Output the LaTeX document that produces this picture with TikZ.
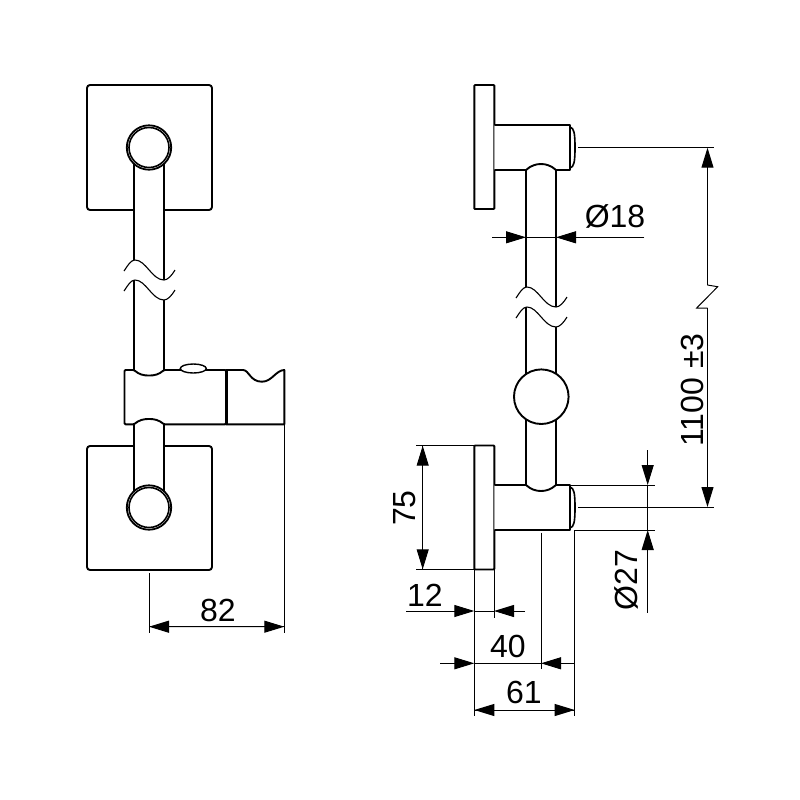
\documentclass[tikz,border=0pt]{standalone}
\usepackage{fontspec}
\setmainfont{Liberation Sans}
\usetikzlibrary{arrows.meta, calc, shapes.geometric}
\tikzstyle{outline} = [draw, line width=0.95pt, line join=round]
\tikzstyle{plate} = [rectangle, draw, line width=0.95pt, rounded corners=1.5pt, fill=white, inner sep=0pt]
\tikzstyle{flange} = [rectangle, draw, line width=0.95pt, rounded corners=0.4pt, fill=white, inner sep=0pt]
\tikzstyle{thinline} = [draw, line width=0.55pt]
\tikzstyle{dim} = [draw, line width=0.5pt]
\tikzstyle{dimtip} = [draw, line width=0.5pt, -{Triangle[length=10pt, width=6pt]}]
\tikzstyle{label} = [font=\fontsize{16}{18}\selectfont, inner sep=0pt]
\tikzset{tubebreak/.pic={
    \draw[thinline] (-10,11) .. controls (-6,5) and (-3,0) .. (1,0) .. controls (12,0) and (18,20) .. (30,20) .. controls (34,20) and (38,15) .. (41,10);
}}

\begin{document}
\begin{tikzpicture}[x=0.5pt, y=-0.5pt]
    \useasboundingbox (0,0) rectangle (800,800);
    % Front view
    \node [plate, minimum width=62.5pt, minimum height=62.5pt] (topplate) at (149.5,147.5) {};
    \node [plate, minimum width=62.5pt, minimum height=62pt] (lowplate) at (149.5,508) {};
    \fill[white] (134,147) rectangle (164,260);
    \fill[white] (134,424) rectangle (164,507);
    \draw[outline] (134,147) -- (134,260);
    \draw[outline] (164,147) -- (164,280);
    \draw[outline] (134,280) -- (134,370);
    \draw[outline] (164,300) -- (164,370);
    \draw[outline] (134,424) -- (134,507);
    \draw[outline] (164,424) -- (164,507);
    \foreach \ypos in {260,280}
        \pic at (134,\ypos) {tubebreak};
    \foreach \name/\ypos in {topcap/147.5, lowcap/507.5} {
        \node [circle, draw, line width=0.9pt, fill=white, minimum size=22.2pt, inner sep=0pt] (\name) at (149,\ypos) {};
        \node [circle, draw, line width=0.8pt, minimum size=20pt, inner sep=0pt] (\name in) at (149,\ypos) {};
    }
    % Slider and holder
    \path[outline, fill=white, rounded corners=0.5pt] (134,370) .. controls (139,374.5) and (144,375.5) .. (149,375.5) .. controls (154,375.5) and (159,374.5) .. (164,370) -- (226,370) -- (226,424.3) -- (164,424.3) .. controls (159,420) and (154,419) .. (149,419) .. controls (144,419) and (139,420) .. (134,424.3) -- (124.5,424.3) -- (124.5,370) -- cycle;
    \path[outline, fill=white] (226,370) -- (243,370) .. controls (249,370) and (250,381.7) .. (262,381.7) .. controls (272,381.7) and (276,370) .. (284.3,370) -- (284.3,424.3) -- (226,424.3) -- cycle;
    \draw[line width=1.5pt] (226,370) -- (226,424.3);
    \node [ellipse, draw, line width=0.7pt, fill=white, minimum width=13pt, minimum height=4.5pt, inner sep=0pt] (knob) at (193.3,368.5) {};
    % Side view
    \node [flange, minimum width=10pt, minimum height=62pt] (topflange) at (484.3,147) {};
    \node [flange, minimum width=10pt, minimum height=62pt] (lowflange) at (484.3,507.5) {};
    \draw[outline] (526,170) -- (526,287);
    \draw[outline] (556,170) -- (556,307);
    \draw[outline] (526,307) -- (526,485);
    \draw[outline] (556,327) -- (556,485);
    \foreach \ypos in {287,307}
        \pic at (526,\ypos) {tubebreak};
    \node [circle, draw, line width=0.95pt, fill=white, minimum size=27.3pt, inner sep=0pt] (ball) at (541.3,396.7) {};
    % Arms
    \path[outline, fill=white] (494.3,125) -- (570,125) -- (570,170) -- (556,170) .. controls (551,165.5) and (546,164) .. (541,164) .. controls (536,164) and (531,165.5) .. (526,170) -- (494.3,170);
    \path[outline, fill=white] (494.3,485) -- (526,485) .. controls (531,489.5) and (536,491) .. (541,491) .. controls (546,491) and (551,489.5) .. (556,485) -- (570,485) -- (570,530) -- (494.3,530);
    \draw[line width=0.8pt] (570,127) .. controls (574,128) and (575,133) .. (575,147.5) .. controls (575,162) and (574,167) .. (570,168);
    \draw[line width=0.8pt] (570,487) .. controls (574,488) and (575,493) .. (575,507.5) .. controls (575,522) and (574,527) .. (570,528);
    % Dimension points
    \coordinate (a82) at (149,626.7);
    \coordinate (b82) at (284.3,626.7);
    \coordinate (a18) at (526,237.3);
    \coordinate (b18) at (556,237.3);
    \coordinate (a1100) at (707.5,147.7);
    \coordinate (b1100) at (707.5,507);
    \coordinate (a75) at (422.7,445.7);
    \coordinate (b75) at (422.7,569.3);
    \coordinate (a27) at (647.7,485);
    \coordinate (b27) at (647.7,530);
    \coordinate (a12) at (474.3,611);
    \coordinate (b12) at (494,611);
    \coordinate (a40) at (474.3,663.3);
    \coordinate (b40) at (541,663.3);
    \coordinate (a61) at (474.3,710);
    \coordinate (b61) at (574.7,710);
    % Extension lines
    \path[dim] (149,573) -- (149,633);
    \path[dim] (284.3,424) -- (284.3,633);
    \path[dim] (578,147.7) -- (714,147.7);
    \path[dim] (578,507) -- (714,507);
    \path[dim] (416,445.7) -- (474,445.7);
    \path[dim] (416,569.3) -- (474,569.3);
    \path[dim] (570,485) -- (655,485);
    \path[dim] (575,530) -- (655,530);
    \path[dim] (474.3,569) -- (474.3,716);
    \path[dim] (494,569) -- (494,618.3);
    \path[dim] (541,532.7) -- (541,669.3);
    \path[dim] (574.7,530) -- (574.7,716);
    % Dimension lines
    \path[dim] (a82) -- (b82);
    \path[dimtip] ($(a82)!0.5!(b82)$) -- (a82);
    \path[dimtip] ($(a82)!0.5!(b82)$) -- (b82);
    \path[dim] (a18) -- (b18);
    \path[dimtip] (492.3,237.3) -- (a18);
    \path[dimtip] (644.3,237.3) -- (b18);
    \path[dimtip] (707.5,285) -- (a1100);
    \path[dim] (707.5,285) -- (717.7,286.7) -- (696.7,308) -- (707.5,308);
    \path[dimtip] (707.5,308) -- (b1100);
    \path[dim] (a75) -- (b75);
    \path[dimtip] (422.7,508) -- (a75);
    \path[dimtip] (422.7,508) -- (b75);
    \path[dim] (a27) -- (b27);
    \path[dimtip] (647.7,450) -- (a27);
    \path[dimtip] (647.7,612.7) -- (b27);
    \path[dim] (a12) -- (b12);
    \path[dimtip] (406,611) -- (a12);
    \path[dimtip] (525,611) -- (b12);
    \path[dim] (a40) -- (b40);
    \path[dimtip] (440,663.3) -- (a40);
    \path[dimtip] (574.7,663.3) -- (b40);
    \path[dim] (a61) -- (b61);
    \path[dimtip] (524,710) -- (a61);
    \path[dimtip] (524,710) -- (b61);
    % Labels
    \node [label] (l82) at (218,610) {82};
    \node [label] (l18) at (615,216) {Ø18};
    \node [label, rotate=90] (l1100) at (692,390) {1100 ±3};
    \node [label, rotate=90] (l75) at (405,508) {75};
    \node [label, rotate=90] (l27) at (626,580) {Ø27};
    \node [label] (l12) at (425,595) {12};
    \node [label] (l40) at (508,646) {40};
    \node [label] (l61) at (524,692) {61};
\end{tikzpicture}
\end{document}
